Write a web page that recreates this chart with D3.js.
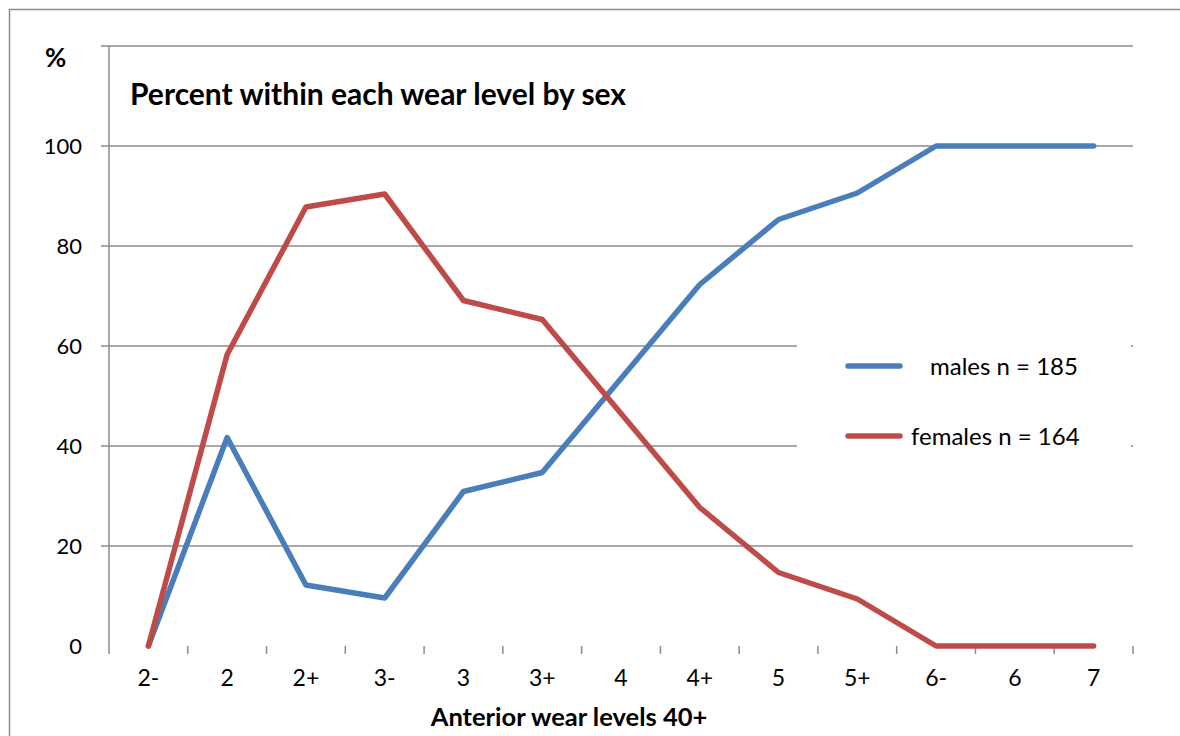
<!DOCTYPE html>
<html>
<head>
<meta charset="utf-8">
<script src="https://cdn.jsdelivr.net/npm/d3@7"></script>
<style>
  html, body { margin: 0; padding: 0; background: #fff; }
  svg { display: block; font-family: Lato, "Open Sans", sans-serif; }
</style>
</head>
<body>
<svg id="chart" width="1180" height="736"></svg>
<script>
// Wear level categories along the x axis
const levels = ["2-", "2", "2+", "3-", "3", "3+", "4", "4+", "5", "5+", "6-", "6", "7"];
// Percent of each wear level by sex
const males   = [0, 41.7, 12.2, 9.6, 30.9, 34.7, 53.5, 72.3, 85.3, 90.6, 100, 100, 100];
const females = [0, 58.3, 87.8, 90.4, 69.1, 65.3, 46.5, 27.7, 14.7, 9.4, 0, 0, 0];
const yTicks = [0, 20, 40, 60, 80, 100];
const gridValues = [20, 40, 60, 80, 100, 120];
const seriesNames = ["males n = 185", "females n = 164"];

const svg = d3.select("#chart");
const W = 1180, H = 736;
const plot = { left: 109, right: 1133, top: 46, bottom: 646 };
const gridColor = "#8c8c8c";
const colors = ["#4a7ebb", "#be4b48"];

// Outer frame
svg.append("rect")
  .attr("x", 9.5).attr("y", 9.5)
  .attr("width", W).attr("height", H)
  .attr("fill", "none").attr("stroke", "#8c8c8c").attr("stroke-width", 1.5);

const x = d3.scaleBand().domain(levels).range([plot.left, plot.right]).padding(0);
const y = d3.scaleLinear().domain([0, 120]).range([plot.bottom, plot.top]);

// Horizontal gridlines, with short outward ticks on the left
svg.append("g").selectAll("line").data(gridValues).join("line")
  .attr("x1", plot.left - 8).attr("x2", plot.right)
  .attr("y1", d => y(d)).attr("y2", d => y(d))
  .attr("stroke", gridColor).attr("stroke-width", 1.5);

// Y axis labels
svg.append("g").selectAll("text").data(yTicks).join("text")
  .attr("x", 82).attr("y", d => y(d))
  .attr("dy", "0.36em")
  .attr("text-anchor", "end")
  .attr("font-size", 22).attr("fill", "#000")
  .text(d => d);

svg.append("text")
  .attr("x", 45).attr("y", 67)
  .attr("font-size", 26).attr("font-weight", "bold")
  .text("%");

// Y axis line
svg.append("line")
  .attr("x1", plot.left).attr("x2", plot.left)
  .attr("y1", plot.top).attr("y2", plot.bottom + 8)
  .attr("stroke", gridColor).attr("stroke-width", 1.5);

// X axis with tick marks at category boundaries
const xAxis = d3.axisBottom(x).tickSize(0).tickPadding(24);
const gx = svg.append("g").attr("transform", `translate(0,${plot.bottom})`).call(xAxis);
gx.select(".domain").remove();
gx.selectAll("text").attr("font-size", 23).attr("font-family", "Lato, sans-serif").attr("fill", "#000");

const bounds = levels.map(l => x(l) + x.bandwidth());
svg.append("g").selectAll("line").data(bounds).join("line")
  .attr("x1", d => d).attr("x2", d => d)
  .attr("y1", plot.bottom).attr("y2", plot.bottom + 8)
  .attr("stroke", gridColor).attr("stroke-width", 1.5);

// Legend background box
const legend = { x: 797, y: 300, w: 334, h: 190 };
svg.append("rect")
  .attr("x", legend.x).attr("y", legend.y)
  .attr("width", legend.w).attr("height", legend.h)
  .attr("fill", "#fff");

// Data lines
const line = d3.line()
  .x((d, i) => x(levels[i]) + x.bandwidth() / 2)
  .y(d => y(d));

[males, females].forEach((s, i) => {
  svg.append("path")
    .datum(s)
    .attr("d", line)
    .attr("fill", "none")
    .attr("stroke", colors[i])
    .attr("stroke-width", 5.5)
    .attr("stroke-linejoin", "round")
    .attr("stroke-linecap", "round");
});

// Legend entries
const legendRows = [
  { y: 366, textX: 930 },
  { y: 436, textX: 911 }
];
legendRows.forEach((r, i) => {
  svg.append("line")
    .attr("x1", 848).attr("x2", 900)
    .attr("y1", r.y).attr("y2", r.y)
    .attr("stroke", colors[i]).attr("stroke-width", 5.5)
    .attr("stroke-linecap", "round");
  svg.append("text")
    .attr("x", r.textX).attr("y", r.y)
    .attr("dy", "0.36em")
    .attr("font-size", 24).attr("fill", "#000")
    .text(seriesNames[i]);
});

// Chart title
svg.append("text")
  .attr("x", 130).attr("y", 105)
  .attr("font-size", 30).attr("font-weight", "bold")
  .text("Percent within each wear level by sex");

// X axis title
svg.append("text")
  .attr("x", 569).attr("y", 726)
  .attr("text-anchor", "middle")
  .attr("font-size", 25.5).attr("font-weight", "bold")
  .text("Anterior wear levels 40+");
</script>
</body>
</html>
